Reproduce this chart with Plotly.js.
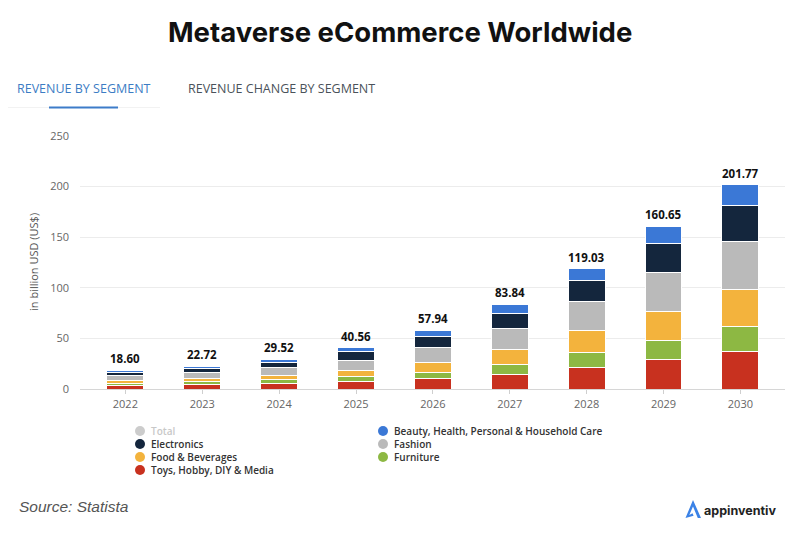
<!DOCTYPE html>
<html>
<head>
<meta charset="utf-8">
<script src="https://cdn.plot.ly/plotly-3.0.1.min.js"></script>
<style>html,body{margin:0;padding:0;background:#fff;}#chart{width:800px;height:535px;}</style>
</head>
<body>
<div id="chart"></div>
<script>
var years = ['2022','2023','2024','2025','2026','2027','2028','2029','2030'];
var toys        = [3.4, 4.2, 5.6, 7.6, 9.9, 14.8, 21.1, 29.3, 36.6];
var furniture   = [2.4, 3.0, 4.0, 4.6, 6.6, 9.6, 14.8, 18.8, 24.7];
var food        = [2.6, 3.1, 3.9, 6.3, 9.9, 14.8, 21.7, 28.7, 36.8];
var fashion     = [4.6, 5.9, 7.3, 9.9, 14.4, 20.4, 28.4, 38.1, 47.2];
var electronics = [3.6, 4.5, 5.6, 8.2, 10.9, 15.2, 21.0, 29.1, 36.2];
var beauty      = [2.0, 2.02, 3.12, 3.96, 6.24, 9.04, 12.03, 16.65, 20.27];
var totals      = [18.60, 22.72, 29.52, 40.56, 57.94, 83.84, 119.03, 160.65, 201.77];
var yTicks = [0, 50, 100, 150, 200, 250];

var segNames = ['Toys, Hobby, DIY & Media','Furniture','Food & Beverages','Fashion','Electronics','Beauty, Health, Personal & Household Care'];
var segVals = [toys, furniture, food, fashion, electronics, beauty];
var segColors = ['#c8311f','#8db843','#f3b33d','#bababa','#14263d','#3b78d6'];

// pixel helpers (plot area: x 80..785, y 136..389)
var L = 80, R = 785, T = 136, B = 389;
function px(x){ return (x - L) / (R - L); }
function py(y){ return (B - y) / (B - T); }

var traces = [];
for (var i = 0; i < segNames.length; i++) {
  traces.push({
    type: 'bar', x: years, y: segVals[i], name: segNames[i],
    marker: {color: segColors[i], line: {color: '#ffffff', width: 1}},
    width: 0.48, showlegend: false, hoverinfo: 'y+name'
  });
}

var annotations = [];
var shapes = [];
// total labels
for (var j = 0; j < years.length; j++) {
  annotations.push({
    x: j, y: totals[j], xref: 'x', yref: 'y', xanchor: 'center', yanchor: 'bottom', yshift: 2,
    text: '<b>' + totals[j].toFixed(2) + '</b>', showarrow: false,
    font: {family: 'Open Sans, sans-serif', size: 11.5, color: '#111'}
  });
}
// title
annotations.push({x: px(400), xref: 'paper', y: py(32), yref: 'paper', xanchor: 'center', yanchor: 'middle',
  text: '<b>Metaverse eCommerce Worldwide</b>', showarrow: false,
  font: {family: 'Inter, sans-serif', size: 27.5, color: '#111'}});
// tabs
annotations.push({x: px(15), xref: 'paper', y: py(88), yref: 'paper', xanchor: 'left', yanchor: 'middle',
  text: 'REVENUE BY SEGMENT', showarrow: false, font: {family: 'Open Sans, sans-serif', size: 12.5, color: '#3c7cc4'}});
annotations.push({x: px(186), xref: 'paper', y: py(88), yref: 'paper', xanchor: 'left', yanchor: 'middle',
  text: 'REVENUE CHANGE BY SEGMENT', showarrow: false, font: {family: 'Open Sans, sans-serif', size: 12.5, color: '#4a525a'}});
shapes.push({type: 'line', xref: 'paper', yref: 'paper', x0: px(8), x1: px(160), y0: py(107.5), y1: py(107.5), line: {color: '#f2f2f2', width: 1}});
shapes.push({type: 'rect', xref: 'paper', yref: 'paper', x0: px(49), x1: px(118), y0: py(106.5), y1: py(108.5), line: {width: 0}, fillcolor: '#3d7cc9'});
// y title
annotations.push({x: px(33), xref: 'paper', y: py(262), yref: 'paper', xanchor: 'center', yanchor: 'middle', textangle: -90,
  text: 'in billion USD (US$)', showarrow: false, font: {family: 'Open Sans, sans-serif', size: 11, color: '#555'}});
// legend (manual, two columns)
var legCols = [
  [{name: 'Total', color: '#cccccc', text: '#c8c8c8'},
   {name: segNames[4], color: segColors[4], text: '#333'},
   {name: segNames[2], color: segColors[2], text: '#333'},
   {name: segNames[0], color: segColors[0], text: '#333'}],
  [{name: segNames[5], color: segColors[5], text: '#333'},
   {name: segNames[3], color: segColors[3], text: '#333'},
   {name: segNames[1], color: segColors[1], text: '#333'}]
];
var colX = [140, 383];
var rowH = 13;
legCols.forEach(function(col, c){
  var cx = colX[c];
  var lines = [];
  col.forEach(function(it, r){
    var cy = 431 + r * rowH;
    shapes.push({type: 'circle', xref: 'paper', yref: 'paper', x0: px(cx - 5), x1: px(cx + 5), y0: py(cy - 5), y1: py(cy + 5), line: {width: 0}, fillcolor: it.color});
    lines.push('<span style="color:' + it.text + '">' + it.name.replace(/&/g, '&amp;') + '</span>');
  });
  annotations.push({x: px(cx + 9), xref: 'paper', y: py(431 - rowH / 2 - 2.5), yref: 'paper', xanchor: 'left', yanchor: 'top', align: 'left',
    text: lines.join('<br>'), showarrow: false, font: {family: 'Open Sans, sans-serif', size: 10, color: '#333', weight: 600}});
});
// source
annotations.push({x: px(17), xref: 'paper', y: py(506), yref: 'paper', xanchor: 'left', yanchor: 'middle',
  text: '<i>Source: Statista</i>', showarrow: false, font: {family: 'Liberation Sans Narrow, Liberation Sans, Arial, sans-serif', size: 15.5, color: '#555'}});
// logo
shapes.push({type: 'path', xref: 'paper', yref: 'paper',
  path: 'M ' + px(685.5) + ' ' + py(518) + ' L ' + px(693) + ' ' + py(500) + ' L ' + px(701) + ' ' + py(518) +
        ' L ' + px(697.8) + ' ' + py(518) + ' L ' + px(693) + ' ' + py(506.5) + ' L ' + px(689.3) + ' ' + py(515) + ' L ' + px(692.5) + ' ' + py(513.2) + ' L ' + px(693.6) + ' ' + py(515.8) + ' Z',
  line: {width: 0}, fillcolor: '#3b82e6'});
annotations.push({x: px(702), xref: 'paper', y: py(510), yref: 'paper', xanchor: 'left', yanchor: 'middle',
  text: '<b>appinventiv</b>', showarrow: false, font: {family: 'Inter, sans-serif', size: 12.5, color: '#222'}});

var layout = {
  width: 800, height: 535,
  margin: {l: L, r: 800 - R, t: T, b: 535 - B, pad: 0},
  paper_bgcolor: '#ffffff', plot_bgcolor: '#ffffff',
  barmode: 'stack', showlegend: false,
  xaxis: {type: 'category', range: [-0.59, 8.58], showgrid: false, zeroline: false,
    showline: true, linecolor: '#d6d6d6', linewidth: 1,
    ticks: 'outside', ticklen: 4, tickcolor: '#cfcfcf', ticklabelstandoff: 1,
    tickfont: {family: 'Open Sans, sans-serif', size: 11, color: '#666'}, fixedrange: true},
  yaxis: {range: [0, 250], tickvals: yTicks, ticktext: yTicks.map(String), showgrid: true, gridcolor: '#ececec', gridwidth: 1,
    zeroline: false, showline: false, ticks: '', ticklabelstandoff: 10,
    tickfont: {family: 'Open Sans, sans-serif', size: 11, color: '#666'}, fixedrange: true},
  annotations: annotations, shapes: shapes
};
Plotly.newPlot('chart', traces, layout, {displayModeBar: false, staticPlot: true});
</script>
</body>
</html>
